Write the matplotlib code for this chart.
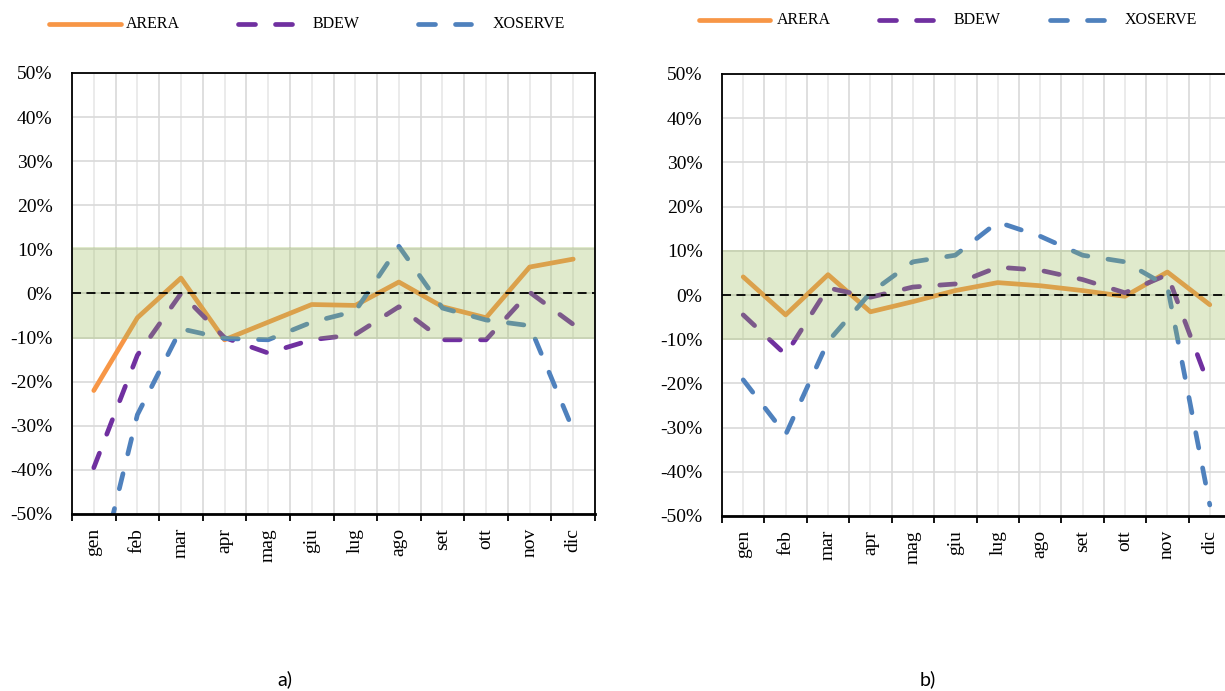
import numpy as np
import matplotlib
matplotlib.use("Agg")
import matplotlib.pyplot as plt
from matplotlib.lines import Line2D
from matplotlib.ticker import FixedLocator, FuncFormatter

months = ['gen', 'feb', 'mar', 'apr', 'mag', 'giu', 'lug', 'ago', 'set', 'ott', 'nov', 'dic']
series_names = ['ARERA', 'BDEW', 'XOSERVE']

# panel a)
arera_a = [-22.0, -5.5, 3.5, -10.5, -6.5, -2.5, -2.7, 2.6, -3.0, -5.5, 6.0, 7.8]
bdew_a = [-39.5, -14.0, 0.0, -10.0, -13.5, -10.5, -9.3, -3.0, -10.5, -10.5, 0.3, -7.0]
xoserve_a = [-68.0, -27.5, -8.0, -10.2, -10.5, -6.5, -4.0, 10.7, -3.3, -6.0, -7.3, -31.0]
band_a = (-10.4, 10.6)

# panel b)
arera_b = [4.1, -4.5, 4.6, -3.8, -1.5, 1.0, 2.8, 2.1, 1.0, -0.3, 5.2, -2.2]
bdew_b = [-4.5, -13.5, 1.6, -0.5, 1.8, 2.5, 6.3, 5.6, 3.5, 0.5, 4.6, -21.0]
xoserve_b = [-19.2, -31.6, -10.5, 0.5, 7.5, 9.0, 16.5, 13.3, 9.0, 7.5, 2.0, -47.5]
band_b = (-10.1, 10.1)

yticks = list(range(-50, 51, 10))

colors = {'ARERA': '#F79646', 'BDEW': '#7030A0', 'XOSERVE': '#4F81BD'}
LW = 3.4
DASH = (3.3, 4.3)
W, H = 1225, 691

serif = 'Liberation Serif'


def style_for(name):
    if name == 'ARERA':
        return dict(color=colors[name], lw=LW, solid_capstyle='round', solid_joinstyle='round')
    return dict(color=colors[name], lw=LW, linestyle=(0, DASH),
                dash_capstyle='round', dash_joinstyle='round')


def draw_panel(ax, arera, bdew, xoserve, band):
    x = np.arange(len(months))
    for name, vals in zip(series_names, [arera, bdew, xoserve]):
        ax.plot(x, vals, zorder=3, **style_for(name))

    # green band sits on top of the lines (semi transparent)
    ax.axhspan(band[0], band[1], color='#9BBB59', alpha=0.3, lw=0, zorder=4)
    ax.axhline(0, color='black', lw=1.3, linestyle=(0, (5, 3)), zorder=5)

    ax.set_xlim(-0.5, len(months) - 0.5)
    ax.set_ylim(-50, 50)
    ax.set_yticks(yticks)
    ax.yaxis.set_major_formatter(FuncFormatter(lambda v, p: f"{v:.0f}%"))

    ax.xaxis.set_major_locator(FixedLocator(x))
    ax.xaxis.set_minor_locator(FixedLocator(np.arange(len(months) + 1) - 0.5))
    ax.set_xticklabels(months, rotation=90, fontsize=14)

    ax.tick_params(axis='x', which='major', length=0, pad=10)
    ax.tick_params(axis='x', which='minor', length=5, width=1.3, direction='out', color='black')
    ax.tick_params(axis='y', length=0, pad=14, labelsize=14)
    ax.tick_params(axis='both', labelfontfamily=serif)

    ax.grid(True, axis='y', color='#d9d9d9', lw=1.2, zorder=0)
    ax.grid(True, axis='x', which='minor', color='#d9d9d9', lw=1.2, zorder=0)
    ax.grid(True, axis='x', which='major', color='#e8e8e8', lw=1.2, zorder=0)
    ax.set_axisbelow(True)

    for s in ax.spines.values():
        s.set_color('black')
        s.set_linewidth(1.3)
        s.set_zorder(6)
    ax.spines['bottom'].set_linewidth(2.0)


def draw_legend(fig, y, slots):
    # slots: (name, handle start px, handle end px, text start px)
    for name, x0, x1, xt in slots:
        yy = 1 - y / H
        if name == 'ARERA':
            fig.add_artist(Line2D([x0 / W, x1 / W], [yy, yy], transform=fig.transFigure,
                                  **style_for(name)))
        else:
            seg = (x1 - x0 - 16) / 2
            for a in (x0, x0 + seg + 16):
                fig.add_artist(Line2D([(a + 2) / W, (a + seg - 2) / W], [yy, yy],
                                      transform=fig.transFigure, color=colors[name],
                                      lw=LW, solid_capstyle='round'))
        fig.text(xt / W, yy, name, family=serif, fontsize=11.5, va='center', ha='left')


fig = plt.figure(figsize=(W / 100, H / 100), dpi=100)

ax_a = fig.add_axes([72 / W, (H - 514) / H, 523 / W, 441 / H])
ax_b = fig.add_axes([722 / W, (H - 516) / H, 509 / W, 442 / H])

draw_panel(ax_a, arera_a, bdew_a, xoserve_a, band_a)
draw_panel(ax_b, arera_b, bdew_b, xoserve_b, band_b)

draw_legend(fig, 24, [('ARERA', 49, 121, 126), ('BDEW', 236, 294, 313), ('XOSERVE', 416, 473, 493)])
draw_legend(fig, 20, [('ARERA', 699, 770, 777), ('BDEW', 877, 935, 954), ('XOSERVE', 1048, 1106, 1125)])

fig.text(285 / W, 1 - 679 / H, 'a)', family=['Lato', 'DejaVu Sans'], fontsize=14, ha='center', va='center')
fig.text(928 / W, 1 - 679 / H, 'b)', family=['Lato', 'DejaVu Sans'], fontsize=14, ha='center', va='center')

fig.savefig('out.png', dpi=100)
